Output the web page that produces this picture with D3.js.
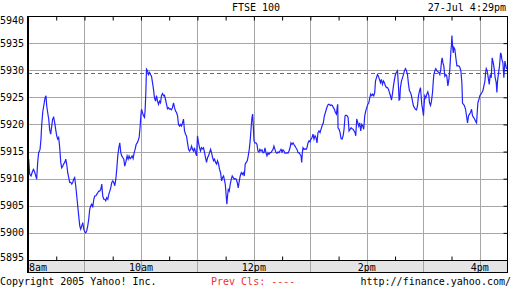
<!DOCTYPE html>
<html>
<head>
<meta charset="utf-8">
<script src="https://cdn.jsdelivr.net/npm/d3@7"></script>
<style>
  body { margin: 0; background: #fff; }
  text { font-family: "DejaVu Sans Mono", monospace; font-size: 10px; }
</style>
</head>
<body>
<div id="chart"></div>
<script>
// minutes after 8:00am and FTSE 100 level
var minutes = [
  0.0,0.7,1.8,3.2,4.3,5.7,6.7,7.8,9.2,10.3,11.3,12.8,13.8,14.5,15.6,16.7,18.1,19.1,19.9,20.9,
  22.0,23.0,24.1,25.2,26.2,27.3,28.4,29.4,30.5,31.6,32.6,33.7,34.8,35.8,36.9,37.9,39.0,40.1,41.1,42.2,
  43.3,44.3,45.4,46.5,47.5,48.6,49.6,50.7,51.8,52.8,53.9,55.0,56.0,57.1,58.2,59.2,60.3,61.3,62.4,63.5,
  64.5,65.6,66.7,67.7,68.8,69.9,70.9,72.0,73.0,74.1,75.2,76.2,77.3,78.4,79.4,80.5,81.6,82.6,83.7,84.8,
  85.8,86.9,87.9,89.0,90.1,91.1,92.2,93.3,94.3,95.4,96.5,97.5,98.6,99.6,100.7,101.8,102.8,103.9,
  105.3,106.4,107.4,108.5,109.6,110.6,111.7,112.8,113.8,114.9,116.0,117.0,118.1,119.2,119.9,120.6,121.6,122.7,123.8,124.5,
  125.2,125.9,127.0,128.0,129.1,130.1,131.2,132.3,133.3,134.4,135.5,136.5,137.6,138.7,139.7,140.8,141.8,142.9,144.0,145.0,
  146.1,147.2,148.2,149.3,150.4,151.4,152.5,153.5,154.6,155.7,156.7,157.8,158.9,159.9,161.0,162.1,163.1,164.2,165.2,166.3,
  167.4,168.4,169.5,170.6,171.6,172.7,173.8,174.8,175.9,176.9,178.0,179.1,180.1,181.2,182.3,183.3,184.4,185.5,186.5,187.6,
  188.6,189.7,190.8,191.8,192.9,194.0,195.0,196.1,197.2,198.2,199.3,200.4,201.4,202.5,203.5,204.6,205.7,206.7,207.8,
  208.5,209.6,210.6,211.3,212.0,212.8,213.8,214.9,216.0,217.0,218.1,219.1,220.2,221.3,222.3,223.4,224.5,225.5,226.6,227.7,
  228.7,229.8,230.8,231.9,233.0,234.0,235.1,236.2,237.2,238.0,238.7,239.4,240.1,241.1,242.2,243.3,244.3,245.4,246.4,247.5,
  248.6,249.6,250.7,251.8,252.8,253.9,255.0,256.0,257.1,258.2,259.2,260.3,261.3,262.4,263.5,264.5,265.6,266.7,267.7,268.8,
  269.9,270.9,272.0,273.0,274.1,275.2,276.2,277.3,278.4,279.4,280.5,281.6,282.6,283.7,284.7,285.8,286.9,287.9,289.0,290.1,
  290.8,291.5,292.2,293.3,294.3,295.4,296.4,297.5,298.6,299.6,300.7,301.8,302.8,303.9,305.0,306.0,307.1,308.1,309.2,310.3,
  311.3,312.4,
  313.8,314.9,316.0,317.0,318.1,319.2,320.2,321.3,322.3,323.4,324.5,325.5,326.6,327.7,328.7,329.1,329.4,330.5,331.6,332.6,
  333.7,334.8,335.8,336.9,337.9,339.0,340.1,341.1,342.2,343.3,344.3,345.4,346.5,347.5,348.2,349.3,350.4,351.4,352.5,353.5,
  354.6,355.7,356.7,357.8,358.9,359.9,361.0,362.1,363.1,364.2,365.3,366.3,367.4,368.4,369.2,370.2,371.3,372.3,373.4,374.5,
  375.5,376.6,377.7,378.7,379.8,380.9,381.9,383.0,384.0,385.1,386.2,387.2,388.3,389.4,390.4,391.5,392.6,393.6,394.3,395.0,
  395.7,396.8,397.9,398.9,400.0,401.1,402.1,403.2,404.3,405.3,406.4,407.4,408.5,409.6,410.6,411.7,412.8,413.8,414.9,416.0,
  417.0,417.7,418.4,419.5,420.2,420.9,421.6,422.7,423.8,424.8,425.9,426.6,427.7,428.7,429.8,430.5,431.2,432.3,433.3,434.4,
  435.5,436.5,437.6,438.6,439.4,440.1,440.8,441.8,442.9,444.0,445.0,446.1,447.2,448.2,449.3,450.0,450.4,451.1,451.8,452.5,
  453.5,454.6,455.7,456.7,457.8,458.9,459.9,461.0,461.7,462.8,463.8,464.9,465.9,467.0,468.1,469.1,470.2,471.3,472.3,473.4,
  474.5,475.5,476.6,477.3,478.0,479.1,480.1,481.2,482.3,483.3,484.4,485.5,486.2,486.9,487.9,489.0,490.1,491.1,492.2,493.2,
  494.3,495.4,496.4,497.5,498.2,498.9,500.0,501.0,502.1,502.8,503.5,504.6,505.6,506.7,507.8,508.5
];
var prices = [
  5912.3,5913.6,5910.8,5910.5,5911.1,5911.7,5911.4,5910.8,5909.9,5913.0,5914.8,5915.4,5917.3,5919.7,5922.2,5923.4,5924.9,5925.3,5923.4,5922.2,
  5921.0,5919.1,5918.2,5919.7,5921.0,5921.3,5920.3,5919.1,5917.9,5917.3,5917.6,5915.7,5913.0,5912.0,5912.3,5912.7,5913.0,5913.6,5912.7,5911.1,
  5910.2,5909.3,5909.3,5909.0,5909.3,5909.9,5910.2,5908.7,5906.8,5905.0,5903.1,5901.3,5900.7,5901.3,5901.9,5900.7,5900.2,5900.0,5900.4,5901.3,
  5902.5,5904.4,5905.0,5905.3,5904.7,5906.2,5906.8,5906.8,5907.1,5907.4,5907.7,5907.7,5908.0,5909.0,5906.8,5906.2,5906.2,5905.9,5906.5,5906.2,
  5907.1,5907.7,5908.3,5909.3,5909.6,5909.3,5908.7,5909.9,5911.7,5914.2,5915.7,5916.6,5914.8,5914.2,5913.9,5913.6,5912.3,5913.0,
  5914.2,5913.6,5914.2,5913.7,5913.9,5914.2,5913.7,5914.8,5915.4,5916.3,5916.6,5917.0,5917.6,5919.7,5921.6,5922.8,5922.2,5921.6,5921.3,5922.8,
  5925.9,5930.2,5929.9,5929.2,5929.6,5929.2,5928.9,5927.7,5926.5,5924.9,5924.3,5925.3,5924.3,5923.7,5924.3,5924.0,5925.3,5925.7,5925.3,5925.4,
  5924.6,5923.7,5922.9,5923.1,5922.8,5922.9,5922.7,5923.1,5924.0,5923.1,5922.5,5922.2,5921.6,5920.0,5919.7,5920.0,5919.7,5920.3,5921.0,5918.8,
  5918.2,5917.9,5916.6,5915.4,5915.1,5915.4,5916.0,5915.4,5915.1,5915.7,5914.8,5914.2,5917.9,5916.6,5915.7,5915.1,5915.7,5915.5,5915.7,5914.8,
  5913.9,5913.0,5913.9,5914.2,5914.8,5915.4,5914.8,5913.9,5913.3,5913.6,5913.0,5912.7,5913.3,5912.7,5911.7,5911.1,5909.6,5910.2,5910.5,
  5909.9,5909.0,5906.8,5905.3,5906.8,5908.0,5907.7,5909.0,5909.9,5910.5,5910.2,5909.9,5910.0,5909.9,5909.3,5908.3,5909.6,5910.5,5911.1,5910.8,
  5911.1,5910.5,5912.7,5913.0,5913.3,5914.2,5915.4,5917.3,5919.7,5921.3,5921.9,5919.7,5917.0,5916.6,5916.6,5916.3,5915.1,5914.9,5915.4,5915.1,
  5915.3,5914.8,5914.8,5915.7,5914.8,5914.2,5914.8,5914.5,5914.8,5914.8,5915.1,5915.4,5916.0,5915.4,5914.8,5914.7,5914.9,5914.8,5915.1,5915.4,
  5914.9,5915.3,5915.1,5914.7,5914.7,5914.8,5914.7,5915.1,5915.7,5916.6,5916.3,5916.6,5916.3,5916.0,5915.7,5915.4,5914.8,5914.8,5914.5,5914.2,
  5913.0,5914.8,5915.7,5915.4,5915.5,5915.4,5915.7,5916.6,5917.0,5916.8,5917.3,5917.6,5918.2,5917.3,5917.9,5917.6,5916.6,5918.5,5918.8,5918.5,
  5919.1,5919.7,
  5920.3,5921.6,5922.2,5922.8,5923.4,5923.7,5923.7,5923.5,5923.6,5923.5,5923.1,5922.8,5922.2,5921.9,5923.4,5923.7,5919.4,5919.1,5918.5,5917.4,
  5917.3,5917.9,5919.1,5921.6,5921.7,5921.6,5921.3,5918.8,5919.1,5919.4,5919.2,5919.1,5918.8,5918.5,5917.9,5921.0,5920.3,5919.7,5920.3,5918.8,
  5920.0,5919.7,5919.1,5921.6,5922.5,5923.1,5923.7,5924.0,5924.9,5925.6,5925.3,5925.6,5925.3,5925.9,5928.0,5928.6,5929.2,5928.9,5928.3,5927.7,
  5928.3,5927.4,5928.0,5927.7,5927.1,5926.8,5926.8,5926.5,5925.9,5925.3,5924.5,5925.6,5927.1,5928.3,5929.2,5929.6,5929.9,5927.1,5924.5,5924.6,
  5926.8,5928.0,5928.6,5929.2,5929.9,5930.3,5929.9,5929.2,5927.4,5926.2,5925.9,5925.3,5924.3,5923.4,5923.1,5922.8,5922.7,5923.4,5925.3,5926.2,
  5926.8,5925.3,5923.7,5922.5,5921.6,5923.7,5925.3,5924.9,5925.6,5926.0,5925.3,5924.0,5923.5,5924.3,5925.9,5927.7,5929.2,5929.9,5930.3,5929.9,
  5929.7,5929.6,5929.2,5930.2,5931.7,5932.3,5931.4,5930.8,5928.9,5929.2,5928.9,5927.1,5928.3,5930.2,5933.5,5934.8,5936.4,5934.5,5933.2,5934.2,
  5933.9,5932.3,5930.8,5930.8,5930.8,5930.5,5929.9,5927.7,5923.9,5923.7,5923.4,5922.8,5921.6,5920.3,5921.6,5921.9,5922.2,5922.8,5921.6,5921.3,
  5921.0,5920.6,5920.3,5922.2,5924.0,5924.6,5925.3,5925.6,5925.9,5926.2,5927.1,5928.0,5929.6,5930.3,5929.9,5928.6,5927.4,5929.2,5928.6,5932.3,
  5931.4,5930.2,5928.6,5927.7,5925.9,5928.0,5929.6,5930.8,5933.2,5932.9,5932.0,5931.4,5928.6,5931.7,5930.8,5930.2
];

var priceTicks = [5895, 5900, 5905, 5910, 5915, 5920, 5925, 5930, 5935, 5940];
var hourTicks = [60, 120, 180, 240, 300, 360, 420, 480];
var halfHourTicks = [30, 90, 150, 210, 270, 330, 390, 450];
var timeLabels = ["8am", "10am", "12pm", "2pm", "4pm"];
var timeLabelMinutes = [0, 120, 240, 360, 480];
var prevClose = 5929.45;

var title = "FTSE 100";
var stamp = "27-Jul 4:29pm";

var W = 512, H = 288;
var plotL = 28, plotR = 508, plotT = 16, plotB = 260, bandB = 273;

var svg = d3.select("#chart").append("svg")
    .attr("width", W)
    .attr("height", H);

var x = d3.scaleLinear().domain([0, 510]).range([plotL, plotR]);
var y = d3.scaleLinear().domain([5895, 5940]).range([plotB, plotT]);

function px(v) { return Math.round(v) + 0.5; }

// gray time band under the plot
svg.append("rect")
    .attr("x", plotL).attr("y", plotB)
    .attr("width", plotR - plotL).attr("height", bandB - plotB)
    .attr("fill", "#e4e4e4");

// grid
svg.append("g").selectAll("line")
  .data(priceTicks.slice(1, -1))
  .enter().append("line")
    .attr("x1", plotL).attr("x2", plotR)
    .attr("y1", function(d) { return px(y(d)); })
    .attr("y2", function(d) { return px(y(d)); })
    .attr("stroke", "#a6a6a6")
    .attr("shape-rendering", "crispEdges");

svg.append("g").selectAll("line")
  .data(hourTicks)
  .enter().append("line")
    .attr("x1", function(d) { return px(x(d)); })
    .attr("x2", function(d) { return px(x(d)); })
    .attr("y1", plotT).attr("y2", bandB)
    .attr("stroke", "#a6a6a6")
    .attr("shape-rendering", "crispEdges");

// previous close
svg.append("line")
    .attr("x1", plotL).attr("x2", plotR)
    .attr("y1", px(y(prevClose))).attr("y2", px(y(prevClose)))
    .attr("stroke", "#f03030")
    .attr("stroke-dasharray", "4,3")
    .attr("shape-rendering", "crispEdges");

// tick marks
var allHalf = halfHourTicks.concat(hourTicks);
svg.append("g")
    .attr("transform", "translate(0," + (plotT + 0.5) + ")")
    .call(d3.axisBottom(x).tickValues(allHalf).tickSize(4).tickFormat(""))
    .call(function(g) { g.select(".domain").remove(); });
svg.append("g")
    .attr("transform", "translate(0," + (plotB + 0.5) + ")")
    .call(d3.axisTop(x).tickValues(halfHourTicks).tickSize(4).tickFormat(""))
    .call(function(g) { g.select(".domain").remove(); });
svg.append("g")
    .attr("transform", "translate(" + (plotR - 0.5) + ",0)")
    .call(d3.axisLeft(y).tickValues(priceTicks).tickSize(4).tickFormat(""))
    .call(function(g) { g.select(".domain").remove(); });

// price line
var line = d3.line()
    .x(function(d) { return x(d[0]); })
    .y(function(d) { return y(d[1]); });

svg.append("path")
    .datum(d3.zip(minutes, prices))
    .attr("d", line)
    .attr("fill", "none")
    .attr("stroke", "#2222ff")
    .attr("stroke-width", 1.2);

// frame
svg.append("rect")
    .attr("x", plotL + 0.5).attr("y", plotT + 0.5)
    .attr("width", plotR - plotL - 1).attr("height", bandB - plotT - 1)
    .attr("fill", "none").attr("stroke", "#000")
    .attr("shape-rendering", "crispEdges");
svg.append("line")
    .attr("x1", plotL).attr("x2", plotR)
    .attr("y1", plotB + 0.5).attr("y2", plotB + 0.5)
    .attr("stroke", "#000")
    .attr("shape-rendering", "crispEdges");
svg.append("line")
    .attr("x1", plotL - 0.5).attr("x2", plotL - 0.5)
    .attr("y1", plotT).attr("y2", bandB)
    .attr("stroke", "#000")
    .attr("shape-rendering", "crispEdges");

// price labels
svg.append("g").selectAll("text")
  .data(priceTicks)
  .enter().append("text")
    .attr("x", 0)
    .attr("y", function(d) { return Math.min(Math.max(y(d), 20), 257); })
    .attr("dy", "0.36em")
    .text(function(d) { return d; });

// time labels
svg.append("g").selectAll("text")
  .data(timeLabels)
  .enter().append("text")
    .attr("x", function(d, i) { return i === 0 ? plotL + 1 : x(timeLabelMinutes[i]); })
    .attr("y", 270.5)
    .attr("text-anchor", function(d, i) { return i === 0 ? "start" : "middle"; })
    .text(function(d) { return d; });

// header and footer
svg.append("text").attr("x", 256).attr("y", 11).attr("text-anchor", "middle").text(title);
svg.append("text").attr("x", 506).attr("y", 11).attr("text-anchor", "end").text(stamp);
svg.append("text").attr("x", 0).attr("y", 285).text("Copyright 2005 Yahoo! Inc.");
svg.append("text").attr("x", 211).attr("y", 285).attr("fill", "#f03030").text("Prev Cls: ----");
svg.append("text").attr("x", 511).attr("y", 285).attr("text-anchor", "end").text("http://finance.yahoo.com/");
</script>
</body>
</html>
